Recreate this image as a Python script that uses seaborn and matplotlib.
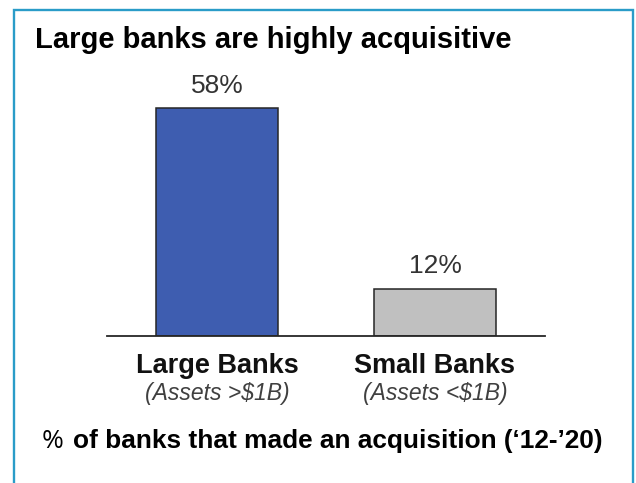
import matplotlib
matplotlib.use("Agg")
import matplotlib.pyplot as plt
from matplotlib.patches import Rectangle
import seaborn as sns

# Chart data
categories = ["Large Banks", "Small Banks"]
subtitles = ["(Assets >\\$1B)", "(Assets <\\$1B)"]
shares = [58, 12]
value_labels = ["58%", "12%"]
bar_colors = ["#3E5DB0", "#C0C0C0"]

title = "Large banks are highly acquisitive"
footer_symbol = "%"
footer_text = "of banks that made an acquisition (\u201812-\u201920)"

sns.set_theme(style="white")
plt.rcParams["font.family"] = ["Liberation Sans", "DejaVu Sans"]

W, H, DPI = 636, 483, 100
fig = plt.figure(figsize=(W / DPI, H / DPI), dpi=DPI)
fig.patch.set_facecolor("white")


def fy(py):
    """Convert a pixel row (from top) to a figure fraction."""
    return 1 - py / H


# Plot area: baseline at y=336 px, spanning x=107..545 px
ax_left, ax_right = 107, 545
ax_bottom, ax_top = 336, 60
ax = fig.add_axes([ax_left / W, fy(ax_bottom), (ax_right - ax_left) / W,
                   (ax_bottom - ax_top) / H])

sns.barplot(x=categories, y=shares, hue=categories, palette=bar_colors,
            width=0.56, edgecolor="#262626", linewidth=1.1, legend=False,
            saturation=1, ax=ax)

ax.set_xlim(-0.505, 1.505)
ax.set_ylim(0, (ax_bottom - ax_top) / 3.93)

for cont, lab in zip(ax.containers, value_labels):
    ax.bar_label(cont, labels=[lab], padding=7.5, fontsize=19, color="#333333")

for side in ["top", "left", "right"]:
    ax.spines[side].set_visible(False)
ax.spines["bottom"].set_color("#262626")
ax.spines["bottom"].set_linewidth(1.3)
ax.set_xticks([])
ax.set_yticks([])
ax.set_xlabel("")
ax.set_ylabel("")
ax.patch.set_alpha(0)

# Category names and asset-size notes under each bar
for i, (cat, sub) in enumerate(zip(categories, subtitles)):
    ax.annotate(cat, xy=(i, fy(373)), xycoords=("data", "figure fraction"),
                ha="center", va="baseline", fontsize=19.5, fontweight="bold",
                color="#111111", annotation_clip=False)
    ax.annotate(sub, xy=(i, fy(400)), xycoords=("data", "figure fraction"),
                ha="center", va="baseline", fontsize=16.5, fontstyle="italic",
                color="#404040", annotation_clip=False)

# Title
fig.text(35 / W, fy(48), title, ha="left", va="baseline", fontsize=21,
         fontweight="bold", color="black")

# Footer
fig.text(42 / W, fy(448), footer_symbol, ha="left", va="baseline",
         fontsize=19, family=["Open Sans", "DejaVu Sans"], color="black")
fig.text(73 / W, fy(448), footer_text, ha="left", va="baseline",
         fontsize=18.9, fontweight="bold", color="black")

# Frame around the panel (open at the bottom edge)
frame = Rectangle((14 / W, -0.05), (632.5 - 14) / W, fy(9.5) + 0.05,
                  transform=fig.transFigure, fill=False,
                  edgecolor="#2A9CC8", linewidth=1.7, clip_on=False)
fig.patches.append(frame)

fig.savefig("out.png", dpi=DPI, facecolor="white")
